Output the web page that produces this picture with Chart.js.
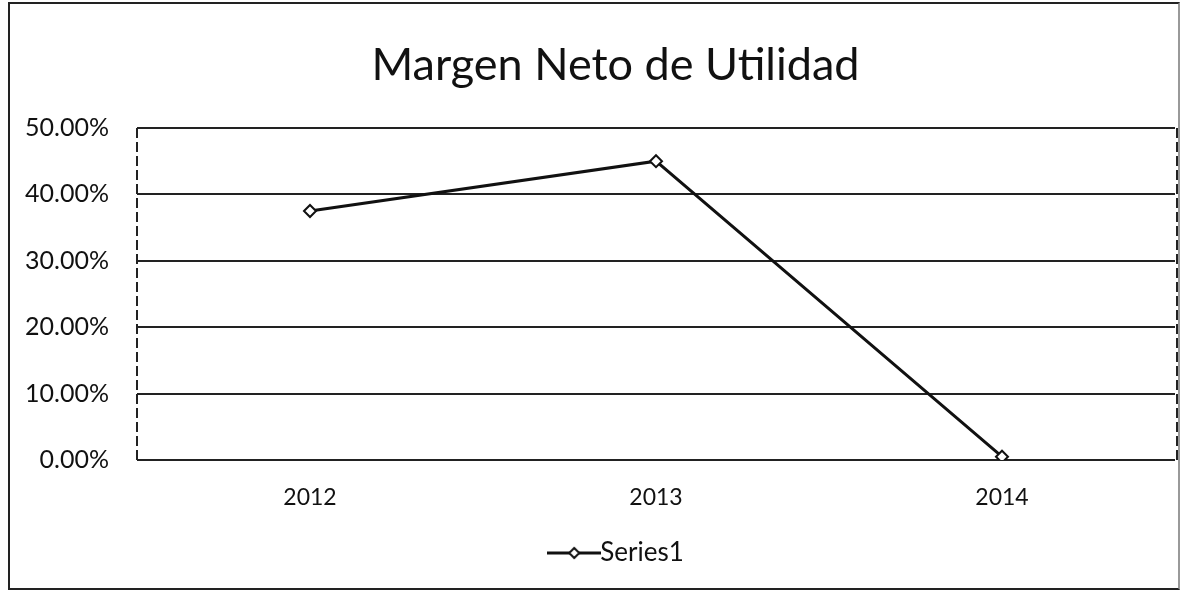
<!DOCTYPE html>
<html>
<head>
<meta charset="utf-8">
<script src="https://cdn.jsdelivr.net/npm/chart.js@4.4.0/dist/chart.umd.min.js"></script>
<style>
  body { margin: 0; background: #fff; }
  #box { position: absolute; left: 8px; top: 2px; width: 1168px; height: 584px; border: 2px solid #222; border-right-color: #999; }
  #wrap { position: absolute; left: 0; top: 0; width: 1196px; height: 590px; }
</style>
</head>
<body>
<div id="box"></div>
<div id="wrap"><canvas id="grafica"></canvas></div>
<script>
const etiquetas = ['2012', '2013', '2014'];
const margen = [0.375, 0.45, 0.005];
const marcasY = [0, 0.1, 0.2, 0.3, 0.4, 0.5];

const fuente = 'Lato, "Open Sans", sans-serif';

// marcador de la leyenda: línea con rombo
const iconoLeyenda = document.createElement('canvas');
iconoLeyenda.width = 54;
iconoLeyenda.height = 14;
const ic = iconoLeyenda.getContext('2d');
ic.strokeStyle = '#111';
ic.lineWidth = 3;
ic.beginPath(); ic.moveTo(0, 7); ic.lineTo(54, 7); ic.stroke();
ic.fillStyle = '#fff';
ic.lineWidth = 2;
ic.beginPath(); ic.moveTo(27, 2); ic.lineTo(32, 7); ic.lineTo(27, 12); ic.lineTo(22, 7); ic.closePath();
ic.fill(); ic.stroke();

// el título y la leyenda del original están un poco a la derecha
const desplazar = {
  id: 'desplazar',
  afterLayout(chart) {
    if (chart.titleBlock) { chart.titleBlock.left += 23; chart.titleBlock.right += 23; }
    if (chart.legend) { chart.legend.left += 30; chart.legend.right += 30; }
  }
};

// borde punteado del área de trazado
const bordeArea = {
  id: 'bordeArea',
  beforeDatasetsDraw(chart) {
    const { ctx, chartArea: a } = chart;
    ctx.save();
    ctx.strokeStyle = '#222';
    ctx.lineWidth = 2;
    ctx.setLineDash([10, 4]);
    ctx.beginPath();
    ctx.moveTo(a.left, a.top); ctx.lineTo(a.left, a.bottom);
    ctx.moveTo(a.right + 2, a.top); ctx.lineTo(a.right + 2, a.bottom);
    ctx.stroke();
    ctx.restore();
  }
};

const ctx = document.getElementById('grafica').getContext('2d');
const configuracion = {
  type: 'line',
  data: {
    labels: etiquetas,
    datasets: [{
      label: 'Series1',
      data: margen,
      borderColor: '#111',
      borderWidth: 3,
      pointStyle: 'rectRot',
      pointRadius: 6,
      pointBackgroundColor: '#fff',
      pointBorderColor: '#111',
      pointBorderWidth: 2,
      tension: 0
    }]
  },
  options: {
    responsive: true,
    maintainAspectRatio: false,
    animation: false,
    layout: { padding: { left: 10, right: 21, top: 38, bottom: 14 } },
    scales: {
      x: {
        offset: true,
        grid: { display: false },
        border: { display: false },
        afterFit: (eje) => { eje.height = 67; },
        ticks: { color: '#111', font: { family: fuente, size: 23 }, padding: 16 }
      },
      y: {
        min: 0,
        max: 0.5,
        afterBuildTicks: (eje) => { eje.ticks = marcasY.map(v => ({ value: v })); },
        afterFit: (eje) => { eje.width = 127; },
        grid: { color: '#222', lineWidth: 2, drawTicks: false },
        border: { display: false },
        ticks: {
          color: '#111',
          font: { family: fuente, size: 25 },
          padding: 28,
          callback: (v) => (v * 100).toFixed(2) + '%'
        }
      }
    },
    plugins: {
      title: {
        display: true,
        text: 'Margen Neto de Utilidad',
        color: '#111',
        font: { family: fuente, size: 45, weight: 'normal' },
        padding: { top: 0, bottom: 36 }
      },
      legend: {
        display: true,
        position: 'bottom',
        labels: {
          color: '#111',
          font: { family: fuente, size: 26 },
          usePointStyle: true,
          pointStyle: iconoLeyenda,
          padding: 13
        }
      },
      tooltip: { enabled: false }
    }
  },
  plugins: [desplazar, bordeArea]
};
var graficaMargen = new Chart(ctx, configuracion);
</script>
</body>
</html>
